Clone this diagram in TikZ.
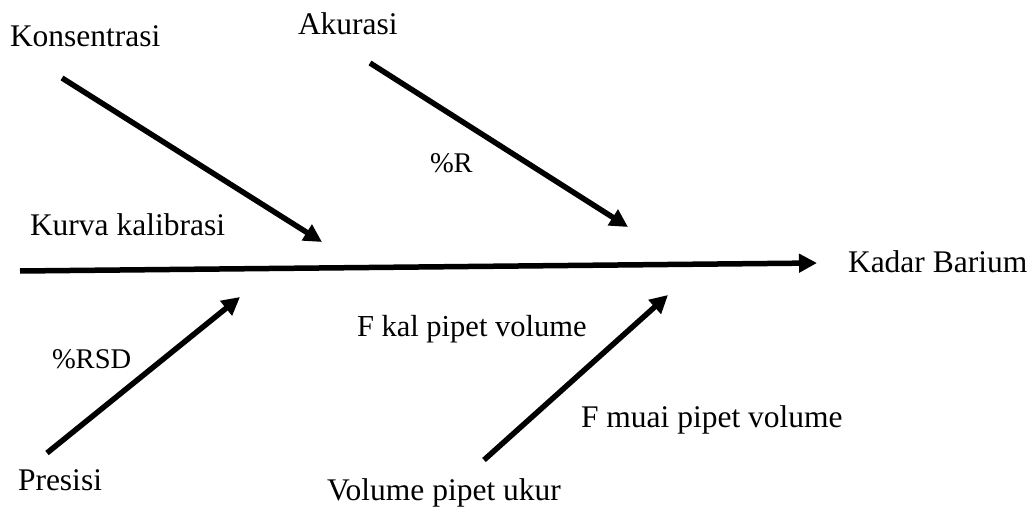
\documentclass[tikz,border=0pt]{standalone}
\usepackage{fontspec}
\setmainfont{Liberation Serif}
\usetikzlibrary{arrows.meta}
\tikzset{
  arr/.style={line width=5.5pt, -{Triangle[length=18pt,width=18pt]}},
  lbl/.style={anchor=base west, inner sep=0pt, outer sep=0pt, font=\fontsize{31.5}{36}\selectfont},
  sml/.style={anchor=base west, inner sep=0pt, outer sep=0pt, font=\fontsize{28.5}{34}\selectfont},
  mid/.style={anchor=base west, inner sep=0pt, outer sep=0pt, font=\fontsize{30.5}{35}\selectfont}
}
\begin{document}
\begin{tikzpicture}[x=1pt,y=-1pt]
\useasboundingbox (0,0) rectangle (1033,508);
% labels
\node[lbl] (kons) at (10,47) {Konsentrasi};
\node[lbl] (akur) at (298,35) {Akurasi};
\node[lbl] (kurva) at (30,235) {Kurva kalibrasi};
\node[sml] (pr) at (430,172) {\%R};
\node[lbl] (kadar) at (848,272) {Kadar Barium};
\node[sml] (prsd) at (52,368) {\%RSD};
\node[lbl] (pres) at (18,490) {Presisi};
\node[mid] (fkal) at (357,336) {F kal pipet volume};
\node[lbl] (fmuai) at (581,427) {F muai pipet volume};
\node[lbl] (vol) at (327,500) {Volume pipet ukur};
% coordinates
\coordinate (m1) at (20,271);
\coordinate (m2) at (817,263);
\coordinate (k1) at (62,78);
\coordinate (k2) at (322,242);
\coordinate (a1) at (370,63);
\coordinate (a2) at (628,227);
\coordinate (p1) at (47,453);
\coordinate (p2) at (240,297);
\coordinate (v1) at (484,460);
\coordinate (v2) at (668,295);
% arrows
\draw[arr] (m1) -- (m2);
\draw[arr] (k1) -- (k2);
\draw[arr] (a1) -- (a2);
\draw[arr] (p1) -- (p2);
\draw[arr] (v1) -- (v2);
\end{tikzpicture}
\end{document}
